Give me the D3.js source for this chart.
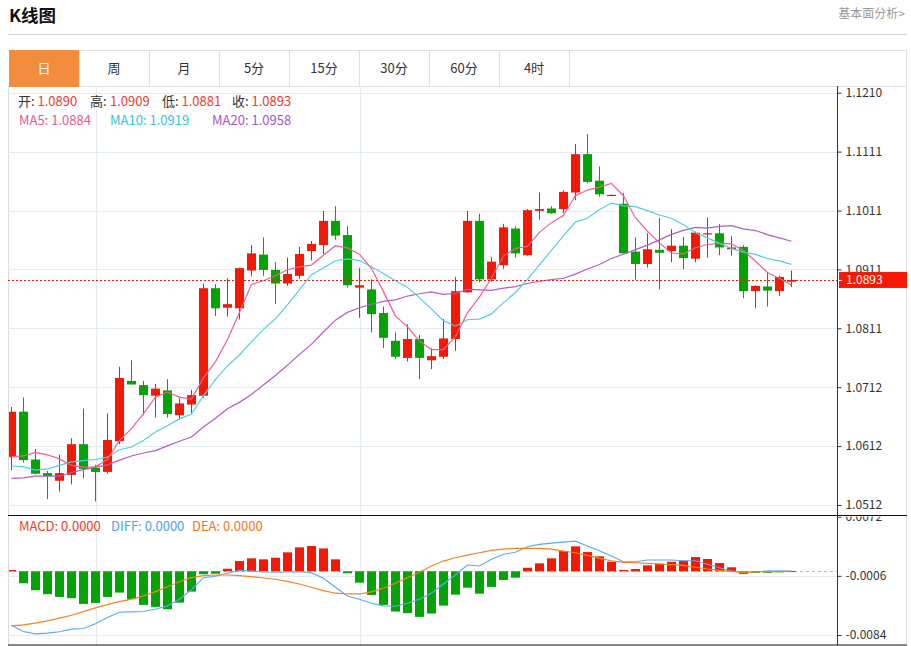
<!DOCTYPE html>
<html><head><meta charset="utf-8">
<script src="https://cdn.jsdelivr.net/npm/d3@7"></script>
<style>body{margin:0;background:#fff}svg{display:block}text{font-family:"Noto Sans CJK SC","Noto Sans",sans-serif}</style>
</head><body>
<script>
// ---------- data ----------
const tabs = ["日","周","月","5分","15分","30分","60分","4时"];
const opens  = [1.0593,1.0670,1.0589,1.0566,1.0553,1.0563,1.0615,1.0575,1.0568,1.0620,1.0722,1.0715,1.0697,1.0706,1.0664,1.0682,1.0697,1.0879,1.0846,1.0845,1.0909,1.0936,1.0910,1.0887,1.0900,1.0942,1.0952,1.0993,1.0969,1.0880,1.0877,1.0837,1.0790,1.0761,1.0793,1.0757,1.0763,1.0793,1.0872,1.0993,1.0894,1.0918,1.0980,1.0935,1.1010,1.1014,1.1013,1.1041,1.1106,1.1061,1.1037,1.1022,1.0941,1.0920,1.0944,1.0942,1.0951,1.0929,1.0971,1.0972,1.0945,1.0949,1.0874,1.0882,1.0874,1.0890];
const highs  = [1.0678,1.0694,1.0607,1.0570,1.0597,1.0625,1.0675,1.0580,1.0667,1.0746,1.0757,1.0722,1.0717,1.0725,1.0693,1.0707,1.0887,1.0886,1.0896,1.0914,1.0952,1.0965,1.0923,1.0931,1.0949,1.0959,1.1010,1.1018,1.0984,1.0913,1.0894,1.0848,1.0804,1.0818,1.0800,1.0777,1.0827,1.0898,1.1010,1.1005,1.0932,1.0988,1.0984,1.1013,1.1041,1.1018,1.1045,1.1123,1.1140,1.1085,1.1038,1.1040,1.0965,1.0972,1.0998,1.0979,1.0966,1.0975,1.0999,1.0988,1.0967,1.0952,1.0884,1.0905,1.0900,1.0909];
const lows   = [1.0571,1.0584,1.0564,1.0522,1.0535,1.0547,1.0557,1.0518,1.0565,1.0615,1.0716,1.0664,1.0660,1.0660,1.0657,1.0667,1.0693,1.0832,1.0831,1.0826,1.0899,1.0900,1.0852,1.0883,1.0895,1.0926,1.0937,1.0961,1.0880,1.0829,1.0804,1.0778,1.0759,1.0755,1.0725,1.0742,1.0759,1.0773,1.0871,1.0889,1.0890,1.0912,1.0931,1.0934,1.0995,1.1005,1.1006,1.1028,1.1057,1.1034,1.1036,1.0938,1.0894,1.0914,1.0877,1.0923,1.0911,1.0923,1.0931,1.0935,1.0934,1.0862,1.0845,1.0848,1.0866,1.0881];
const closes = [1.0670,1.0588,1.0565,1.0561,1.0566,1.0615,1.0573,1.0568,1.0622,1.0727,1.0716,1.0698,1.0709,1.0666,1.0684,1.0698,1.0879,1.0845,1.0852,1.0913,1.0938,1.0910,1.0887,1.0903,1.0937,1.0954,1.0993,1.0968,1.0884,1.0884,1.0835,1.0795,1.0763,1.0793,1.0761,1.0764,1.0794,1.0874,1.0993,1.0894,1.0924,1.0982,1.0938,1.1011,1.1013,1.1006,1.1042,1.1106,1.1059,1.1038,1.1037,1.0938,1.0920,1.0945,1.0939,1.0951,1.0930,1.0973,1.0972,1.0948,1.0948,1.0874,1.0883,1.0875,1.0898,1.0893];
// moving-average values before enough candles are on screen
const ma5Head  = [1.0594,1.0595,1.0601,1.0597];
const ma10Head = [1.0578,1.0577,1.0571,1.0573,1.0579,1.0585,1.0587,1.0589,1.0593];
const ma20Head = [1.0557,1.0558,1.0561,1.0561,1.0561,1.0567,1.0572,1.0576,1.0580,1.0588,1.0595,1.0600,1.0604,1.0612,1.0620,1.0627,1.0644,1.0659,1.0675];
const macdHist = [0.00017,-0.00158,-0.0025,-0.00302,-0.00338,-0.00355,-0.0043,-0.00417,-0.00338,-0.00281,-0.00368,-0.00443,-0.00469,-0.005,-0.00413,-0.00268,-0.00039,-0.00032,0.00034,0.00135,0.00171,0.00158,0.00179,0.0025,0.00316,0.00333,0.00302,0.00158,-0.00026,-0.0015,-0.00312,-0.00443,-0.00531,-0.00552,-0.00601,-0.00557,-0.00452,-0.00308,-0.00216,-0.00295,-0.00206,-0.00114,-0.00084,0.00047,0.00105,0.00171,0.00267,0.00329,0.00254,0.00197,0.00126,0.00017,0.0003,0.00079,0.001,0.00126,0.00139,0.00188,0.00162,0.00109,0.00053,-0.00035,-0.0002,-0.0002,-0.00005,0.00003];
const diffVals = [-0.00712,-0.00794,-0.00825,-0.00815,-0.00798,-0.00763,-0.00755,-0.00693,-0.0061,-0.00539,-0.00535,-0.00531,-0.005,-0.00456,-0.00368,-0.00246,-0.00084,-0.00066,-0.00026,0.00013,0.00004,-0.00009,-0.00013,-0.00009,-0.00005,-0.00018,-0.00092,-0.0021,-0.00325,-0.00368,-0.00421,-0.00456,-0.0046,-0.00421,-0.00368,-0.00289,-0.00167,-0.00049,0.00083,0.0007,0.00158,0.00224,0.0025,0.00323,0.00355,0.00372,0.00385,0.00398,0.00333,0.00271,0.00201,0.00126,0.00126,0.00149,0.00149,0.00149,0.00139,0.00139,0.00092,0.00047,0.00004,-0.00009,-0.00005,0.00004,0.00008,0.00004];
const deaVals  = [-0.0072,-0.00706,-0.00684,-0.00654,-0.00618,-0.00579,-0.00531,-0.00483,-0.00439,-0.004,-0.00368,-0.00325,-0.00268,-0.00203,-0.00137,-0.00084,-0.00058,-0.00049,-0.00049,-0.00058,-0.00071,-0.00088,-0.00105,-0.00132,-0.00167,-0.0021,-0.00255,-0.00289,-0.00299,-0.00299,-0.00272,-0.00224,-0.00158,-0.00084,-0.00013,0.0007,0.00135,0.00179,0.00214,0.00245,0.00276,0.00293,0.00302,0.00302,0.00302,0.00293,0.00267,0.00245,0.0021,0.00171,0.00139,0.00118,0.00113,0.00105,0.00096,0.00087,0.00079,0.00053,0.0003,0.00013,0,-0.00013,-0.00009,-0.00005,-0.00005,0];
const priceTicks = ["1.1210","1.1111","1.1011","1.0911","1.0811","1.0712","1.0612","1.0512"];
const macdTicks = [0.0072,-0.0006,-0.0084];
const lastPrice = 1.0893;
const ohlcKeys = ["开:","高:","低:","收:"];
const ohlcVals = ["1.0890","1.0909","1.0881","1.0893"];
const maNames = ["MA5: 1.0884","MA10: 1.0919","MA20: 1.0958"];
const macdNames = ["MACD: 0.0000","DIFF: 0.0000","DEA: 0.0000"];

// ---------- setup ----------
const W=911,H=646;
const RED="#f21a06",GREEN="#06a306";
const svg=d3.select("body").append("svg").attr("width",W).attr("height",H);

// header
svg.append("text").attr("x",9).attr("y",22).attr("font-size",17.5).attr("font-weight","bold").attr("fill","#111").text("K线图");
svg.append("text").attr("x",905).attr("y",18).attr("text-anchor","end").attr("font-size",12).attr("fill","#999").text("基本面分析>");
svg.append("line").attr("x1",8).attr("x2",907).attr("y1",34.5).attr("y2",34.5).attr("stroke","#d2d2d2");

// tabs
const tabW=70, tabX0=9, tabY=50, tabH=36;
svg.append("rect").attr("x",tabX0+0.5).attr("y",tabY+0.5).attr("width",906-tabX0).attr("height",tabH).attr("fill","#fff").attr("stroke","#e0e0e0");
const tg=svg.selectAll("g.tab").data(tabs).join("g").attr("class","tab");
tg.append("rect").attr("x",(d,i)=>tabX0+0.5+i*tabW).attr("y",tabY+0.5).attr("width",tabW).attr("height",tabH)
  .attr("fill",(d,i)=>i===0?"#f28c3e":"#fff").attr("stroke",(d,i)=>i===0?"#f28c3e":"#e0e0e0");
tg.append("text").attr("x",(d,i)=>tabX0+i*tabW+tabW/2).attr("y",tabY+tabH/2+4.5).attr("text-anchor","middle")
  .attr("font-size",13).attr("fill",(d,i)=>i===0?"#fff":"#333").text(d=>d);

// chart frame
const L=8, R=837, mainTop=86, mainBot=515.5, macdBot=645;
svg.append("line").attr("x1",L+0.5).attr("x2",L+0.5).attr("y1",mainTop).attr("y2",macdBot).attr("stroke","#dcdcdc");
svg.append("line").attr("x1",906.5).attr("x2",906.5).attr("y1",mainTop).attr("y2",macdBot).attr("stroke","#e4e4e4");

const N=closes.length;
const x=d3.scaleLinear().domain([0,N-1]).range([11.4,11.4+12*(N-1)]);
const bw=9;
const y=d3.scaleLinear().domain([1.0512,1.1210]).range([505,92.7]);
const ym=d3.scaleLinear().domain([-0.0084,0.0072]).range([635,516.7]);
const tickVals=priceTicks.map((t,i)=>1.1210-i*(1.1210-1.0512)/(priceTicks.length-1));

// grid
const grid=svg.append("g");
grid.selectAll("line.h").data(tickVals).join("line").attr("x1",L).attr("x2",R).attr("y1",d=>Math.round(y(d))+0.5).attr("y2",d=>Math.round(y(d))+0.5).attr("stroke","#e3ebf3");
grid.selectAll("line.m").data(macdTicks.slice(1)).join("line").attr("x1",L).attr("x2",R).attr("y1",d=>Math.round(ym(d))+0.5).attr("y2",d=>Math.round(ym(d))+0.5).attr("stroke","#e3ebf3");
[96,360].forEach(gx=>grid.append("line").attr("x1",gx+0.5).attr("x2",gx+0.5).attr("y1",mainTop).attr("y2",macdBot).attr("stroke","#e3ebf3"));

// clip paths
const defs=svg.append("defs");
defs.append("clipPath").attr("id","cm").append("rect").attr("x",L+1).attr("y",mainTop).attr("width",R-L-1).attr("height",mainBot-mainTop);
defs.append("clipPath").attr("id","cd").append("rect").attr("x",L+1).attr("y",mainBot).attr("width",R-L-1).attr("height",macdBot-mainBot);
defs.append("clipPath").attr("id","ca").append("rect").attr("x",R).attr("y",mainBot+1).attr("width",W-R).attr("height",macdBot-mainBot-1);

// candles
const candles=d3.range(N).map(i=>({i,o:opens[i],h:highs[i],l:lows[i],c:closes[i]}));
const cg=svg.append("g").attr("clip-path","url(#cm)");
const col=d=>d.c>=d.o?RED:GREEN;
cg.selectAll("line.w").data(candles).join("line").attr("x1",d=>Math.round(x(d.i))+0.5).attr("x2",d=>Math.round(x(d.i))+0.5)
  .attr("y1",d=>y(d.h)).attr("y2",d=>y(d.l)).attr("stroke",col).attr("stroke-width",1);
cg.selectAll("rect.b").data(candles).join("rect").attr("x",d=>Math.round(x(d.i))+1-bw/2-0.5).attr("width",bw)
  .attr("y",d=>y(Math.max(d.o,d.c))).attr("height",d=>Math.max(1.2,Math.abs(y(d.o)-y(d.c)))).attr("fill",col);

// moving averages
function ma(n,head){return closes.map((c,i)=>i<n-1?head[i]:d3.mean(closes.slice(i-n+1,i+1)));}
const ma5=ma(5,ma5Head),ma10=ma(10,ma10Head),ma20=ma(20,ma20Head);
const line=d3.line().x((d,i)=>x(i)).y(d=>y(d));
[[ma20,"#b35cc9"],[ma10,"#4fd0e2"],[ma5,"#f0608c"]].forEach(([s,c])=>cg.append("path").attr("d",line(s)).attr("fill","none").attr("stroke",c).attr("stroke-width",1.2));

// last price dotted line
svg.append("line").attr("x1",L).attr("x2",R).attr("y1",Math.round(y(lastPrice))+0.5).attr("y2",Math.round(y(lastPrice))+0.5)
  .attr("stroke",RED).attr("stroke-dasharray","2,2");

// price axis
const ax=svg.append("g").attr("transform",`translate(${R+0.5},0)`)
  .call(d3.axisRight(y).tickValues(tickVals).tickFormat((d,i)=>priceTicks[i]).tickSize(4).tickPadding(4));
ax.select(".domain").remove();
ax.selectAll("line").attr("stroke","#333");
ax.selectAll("text").attr("font-size",12).attr("fill","#333").style("font-family",'"Noto Sans CJK SC",sans-serif');
// last price tag
const ly=y(lastPrice);
svg.append("rect").attr("x",R+2).attr("y",ly-8).attr("width",907-R-2).attr("height",16).attr("fill","#f51a06");
svg.append("line").attr("x1",R+1).attr("x2",R+5).attr("y1",Math.round(ly)+0.5).attr("y2",Math.round(ly)+0.5).attr("stroke","#fff");
svg.append("text").attr("x",R+9).attr("y",ly+4.5).attr("font-size",12).attr("fill","#fff").text(lastPrice.toFixed(4));

// MACD panel
const mg=svg.append("g").attr("clip-path","url(#cd)");
mg.append("line").attr("x1",L).attr("x2",R+2).attr("y1",Math.round(ym(0))+0.5).attr("y2",Math.round(ym(0))+0.5).attr("stroke","#9fc4d8").attr("stroke-dasharray","3,3");
mg.selectAll("rect.h").data(macdHist).join("rect").attr("x",(d,i)=>Math.round(x(i))+1-bw/2-0.5).attr("width",bw)
  .attr("y",d=>d>=0?ym(d):ym(0)).attr("height",d=>Math.max(1,Math.abs(ym(d)-ym(0)))).attr("fill",d=>d>=0?RED:GREEN);
const mline=d3.line().x((d,i)=>x(i)).y(d=>ym(d));
mg.append("path").attr("d",mline(diffVals)).attr("fill","none").attr("stroke","#5aa9f0").attr("stroke-width",1.1);
mg.append("path").attr("d",mline(deaVals)).attr("fill","none").attr("stroke","#f7821e").attr("stroke-width",1.2);

const max=svg.append("g").attr("clip-path","url(#ca)").append("g").attr("transform",`translate(${R+0.5},0)`)
  .call(d3.axisRight(ym).tickValues(macdTicks).tickFormat(d=>d.toFixed(4)).tickSize(4).tickPadding(4));
max.select(".domain").remove();
max.selectAll("line").attr("stroke","#333");
max.selectAll("text").attr("font-size",12).attr("fill","#333").style("font-family",'"Noto Sans CJK SC",sans-serif');

// axis lines & separators
svg.append("line").attr("x1",R+0.5).attr("x2",R+0.5).attr("y1",mainTop).attr("y2",macdBot).attr("stroke","#333");
svg.append("line").attr("x1",L).attr("x2",907).attr("y1",mainBot).attr("y2",mainBot).attr("stroke","#111");
svg.append("line").attr("x1",L).attr("x2",907).attr("y1",macdBot).attr("y2",macdBot).attr("stroke","#111");

// legends
const keyX=[18,90,162,232], valX=[37.5,110,181.5,251.5];
const lg=svg.append("g").attr("font-size",13);
lg.selectAll("text.k").data(ohlcKeys).join("text").attr("x",(d,i)=>keyX[i]).attr("y",106).attr("fill","#333").text(d=>d);
lg.selectAll("text.v").data(ohlcVals).join("text").attr("x",(d,i)=>valX[i]).attr("y",106).attr("fill","#f23a2a").text(d=>d);
const maX=[19,110,212], maC=["#ee5a8c","#36c4dc","#a957c6"];
lg.selectAll("text.ma").data(maNames).join("text").attr("x",(d,i)=>maX[i]).attr("y",125).attr("fill",(d,i)=>maC[i]).text(d=>d);
const mdX=[19,111,192], mdC=["#f23a2a","#4aa3f0","#f5761a"];
lg.selectAll("text.md").data(macdNames).join("text").attr("x",(d,i)=>mdX[i]).attr("y",531).attr("fill",(d,i)=>mdC[i]).text(d=>d);
</script>
</body></html>
